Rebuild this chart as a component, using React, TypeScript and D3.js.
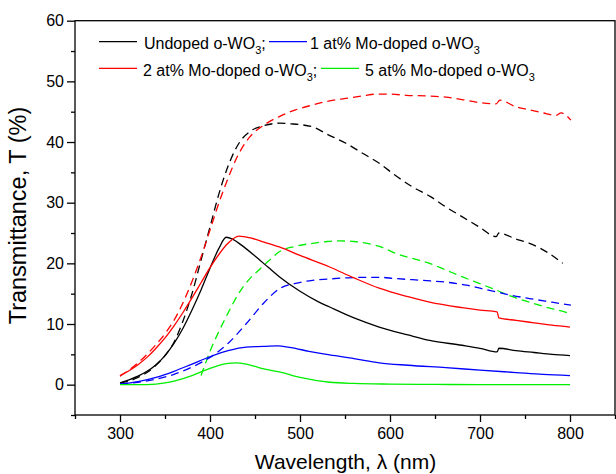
import React, { useEffect, useRef } from 'react';
import * as d3 from 'd3';

const W = 616;
const H = 474;

const xTicksMajor = [300, 400, 500, 600, 700, 800];
const xTicksMinor = [250, 350, 450, 550, 650, 750, 850];
const yTicksMajor = [0, 10, 20, 30, 40, 50, 60];
const yTicksMinor = [-5, 5, 15, 25, 35, 45, 55];

// Undoped o-WO3 (solid)
const wlUndopedSolid = [300, 310, 320, 330, 340, 350, 360, 370, 380, 390, 400, 410, 418, 425, 435, 450, 465, 477, 500, 520, 533, 560, 588, 620, 644, 680, 700, 719, 721, 740, 760, 780, 800];
const tUndopedSolid = [0.3, 0.8, 1.4, 2.2, 3.3, 4.8, 6.8, 9.3, 12.3, 15.6, 19.2, 22.5, 24.3, 24.0, 23.0, 21.2, 19.3, 17.8, 15.4, 13.7, 12.8, 11.0, 9.5, 8.2, 7.3, 6.5, 6.0, 5.4, 6.0, 5.6, 5.3, 5.0, 4.8];
// Undoped o-WO3 (dashed)
const wlUndopedDash = [300, 310, 320, 330, 340, 350, 360, 370, 380, 390, 400, 410, 420, 433, 445, 460, 477, 490, 514, 530, 551, 570, 588, 605, 625, 645, 662, 680, 699, 718, 721, 740, 755, 775, 792];
const tUndopedDash = [0.3, 0.6, 1.2, 2.0, 3.2, 4.8, 7.0, 10.5, 15.0, 20.5, 26.0, 31.5, 36.0, 40.0, 41.8, 42.7, 43.1, 43.0, 42.5, 41.3, 39.8, 38.1, 36.5, 34.6, 32.6, 31.0, 29.3, 27.7, 26.0, 24.4, 25.0, 24.0, 23.3, 21.8, 20.0];

// 1 at% Mo-doped (solid)
const wlMo1Solid = [300, 320, 340, 360, 380, 400, 420, 440, 460, 475, 490, 510, 533, 560, 588, 620, 662, 700, 740, 770, 800];
const tMo1Solid = [0.1, 0.5, 1.2, 2.2, 3.4, 4.6, 5.6, 6.2, 6.3, 6.4, 6.1, 5.5, 4.9, 4.3, 3.6, 3.2, 2.8, 2.4, 2.0, 1.7, 1.5];
// 1 at% Mo-doped (dashed)
const wlMo1Dash = [300, 320, 340, 360, 380, 400, 420, 440, 460, 477, 495, 514, 530, 551, 570, 588, 605, 625, 645, 662, 685, 700, 718, 736, 755, 780, 801];
const tMo1Dash = [0.1, 0.4, 0.9, 1.7, 2.9, 4.5, 6.8, 10.0, 13.5, 15.8, 16.7, 17.2, 17.4, 17.6, 17.7, 17.7, 17.5, 17.3, 17.1, 16.9, 16.4, 15.9, 15.3, 14.7, 14.2, 13.6, 13.1];

// 2 at% Mo-doped (solid)
const wlMo2Solid = [300, 310, 320, 330, 340, 350, 360, 370, 380, 390, 400, 410, 420, 432, 445, 460, 477, 500, 533, 560, 588, 620, 644, 680, 700, 719, 721, 740, 760, 780, 800];
const tMo2Solid = [1.5, 2.3, 3.3, 4.5, 6.0, 7.7, 9.7, 11.9, 14.3, 16.8, 19.3, 21.5, 23.3, 24.5, 24.2, 23.5, 22.7, 21.3, 19.4, 17.6, 15.9, 14.5, 13.6, 12.7, 12.3, 12.0, 11.0, 10.6, 10.2, 9.8, 9.5];
// 2 at% Mo-doped (dashed)
const wlMo2Dash = [300, 310, 320, 330, 340, 350, 360, 370, 380, 390, 400, 410, 420, 430, 444, 460, 477, 495, 514, 530, 551, 570, 585, 600, 618, 640, 662, 680, 699, 718, 722, 740, 755, 770, 785, 790, 801];
const tMo2Dash = [1.4, 2.4, 3.6, 5.0, 6.6, 8.4, 10.6, 13.5, 17.0, 21.0, 25.5, 30.0, 34.0, 37.5, 40.8, 42.8, 44.2, 45.3, 46.1, 46.7, 47.2, 47.6, 47.9, 47.9, 47.7, 47.6, 47.4, 47.0, 46.5, 46.3, 46.9, 45.8, 45.3, 44.8, 44.4, 44.8, 43.6];

// 5 at% Mo-doped (solid)
const wlMo5Solid = [300, 320, 340, 350, 360, 370, 380, 390, 400, 410, 420, 428, 440, 450, 460, 477, 500, 533, 560, 600, 650, 700, 800];
const tMo5Solid = [0, 0, 0.1, 0.3, 0.6, 1.0, 1.5, 2.1, 2.7, 3.2, 3.5, 3.6, 3.4, 3.0, 2.6, 2.1, 1.2, 0.4, 0.2, 0.1, 0.05, 0, 0];
// 5 at% Mo-doped (dashed)
const wlMo5Dash = [390, 395, 400, 410, 420, 433, 445, 455, 466, 477, 495, 514, 530, 544, 560, 570, 590, 607, 625, 644, 662, 680, 699, 718, 736, 755, 773, 794, 800];
const tMo5Dash = [1.5, 3.5, 5.5, 8.8, 11.8, 15.3, 17.6, 19.0, 20.5, 21.9, 22.8, 23.3, 23.6, 23.7, 23.6, 23.4, 22.7, 21.6, 20.8, 20.0, 18.9, 17.8, 16.7, 15.6, 14.5, 13.6, 12.8, 12.0, 11.7];

const FONT = "Arial, 'Liberation Sans', Helvetica, sans-serif";

const seriesList = [
  { wl: wlUndopedDash, t: tUndopedDash, color: '#000000', dash: true },
  { wl: wlMo2Dash, t: tMo2Dash, color: '#ff0000', dash: true },
  { wl: wlMo5Dash, t: tMo5Dash, color: '#00ee00', dash: true },
  { wl: wlMo1Dash, t: tMo1Dash, color: '#0000ff', dash: true },
  { wl: wlUndopedSolid, t: tUndopedSolid, color: '#000000', dash: false },
  { wl: wlMo2Solid, t: tMo2Solid, color: '#ff0000', dash: false },
  { wl: wlMo1Solid, t: tMo1Solid, color: '#0000ff', dash: false },
  { wl: wlMo5Solid, t: tMo5Solid, color: '#00ee00', dash: false },
];

export default function App() {
  const xMajRef = useRef<SVGGElement>(null);
  const xMinRef = useRef<SVGGElement>(null);
  const yMajRef = useRef<SVGGElement>(null);
  const yMinRef = useRef<SVGGElement>(null);

  const x = d3.scaleLinear().domain([250, 850]).range([75, 615]);
  const y = d3.scaleLinear().domain([-5, 60]).range([415, 20.7]);

  const line = d3
    .line<[number, number]>()
    .x((d) => x(d[0]))
    .y((d) => y(d[1]))
    .curve(d3.curveMonotoneX);

  useEffect(() => {
    const style = (g: any) => {
      g.attr('font-family', FONT).attr('font-size', 16);
      g.selectAll('line').attr('stroke', '#000').attr('stroke-width', 1.3);
      g.selectAll('text').attr('fill', '#000');
      g.select('.domain').remove();
    };
    const gxM = d3.select(xMajRef.current as SVGGElement);
    gxM.call(
      d3.axisBottom(x).tickValues(xTicksMajor).tickSize(7).tickPadding(6).tickSizeOuter(0).tickFormat(d3.format('d')) as any
    );
    style(gxM);
    const gxm = d3.select(xMinRef.current as SVGGElement);
    gxm.call(d3.axisBottom(x).tickValues(xTicksMinor).tickSize(4).tickSizeOuter(0).tickFormat(() => '') as any);
    style(gxm);
    const gyM = d3.select(yMajRef.current as SVGGElement);
    gyM.call(
      d3.axisLeft(y).tickValues(yTicksMajor).tickSize(8).tickPadding(3).tickSizeOuter(0).tickFormat(d3.format('d')) as any
    );
    style(gyM);
    const gym = d3.select(yMinRef.current as SVGGElement);
    gym.call(d3.axisLeft(y).tickValues(yTicksMinor).tickSize(4).tickSizeOuter(0).tickFormat(() => '') as any);
    style(gym);
  });

  const [x0, x1] = x.range();
  const [y0, y1] = y.range();

  const legendRows = [
    { color: '#000000', lx: 99, tx: 144, ly: 41.7, label: 'Undoped o-WO', semi: true },
    { color: '#0000ff', lx: 269, tx: 310, ly: 41.7, label: '1 at% Mo-doped o-WO', semi: false },
    { color: '#ff0000', lx: 99, tx: 143, ly: 68.3, label: '2 at% Mo-doped o-WO', semi: true },
    { color: '#00ee00', lx: 321, tx: 365, ly: 68.3, label: '5 at% Mo-doped o-WO', semi: false },
  ];

  return (
    <svg
      width={W}
      height={H}
      viewBox={`0 0 ${W} ${H}`}
      style={{ position: 'absolute', left: 0, top: 0, background: '#fff' }}
    >
      <rect x={0} y={0} width={W} height={H} fill="#fff" />
      {seriesList.map((s, i) => (
        <path
          key={i}
          d={line(s.wl.map((w, j) => [w, s.t[j]] as [number, number])) || ''}
          fill="none"
          stroke={s.color}
          strokeWidth={1.3}
          strokeDasharray={s.dash ? '8,5' : undefined}
        />
      ))}
      <rect
        x={x0}
        y={y1}
        width={x1 - x0}
        height={y0 - y1}
        fill="none"
        stroke="#000"
        strokeWidth={1.3}
      />
      <g ref={xMajRef} transform={`translate(0,${y0})`} />
      <g ref={xMinRef} transform={`translate(0,${y0})`} />
      <g ref={yMajRef} transform={`translate(${x0},0)`} />
      <g ref={yMinRef} transform={`translate(${x0},0)`} />

      {legendRows.map((r, i) => (
        <g key={i}>
          <line x1={r.lx} x2={r.lx + 38} y1={r.ly} y2={r.ly} stroke={r.color} strokeWidth={1.3} />
          <text x={r.tx} y={r.ly + 7.4} fontFamily={FONT} fontSize={16} fill="#000">
            {r.label}
            <tspan dy={5} fontSize={11}>3</tspan>
            {r.semi ? <tspan dy={-5}>;</tspan> : null}
          </text>
        </g>
      ))}

      <text x={345.5} y={469} textAnchor="middle" fontFamily={FONT} fontSize={21} fill="#000">
        Wavelength, λ (nm)
      </text>
      <text
        transform="translate(26,215.5) rotate(-90)"
        textAnchor="middle"
        fontFamily={FONT}
        fontSize={23.5}
        fill="#000"
      >
        Transmittance, T (%)
      </text>
    </svg>
  );
}
